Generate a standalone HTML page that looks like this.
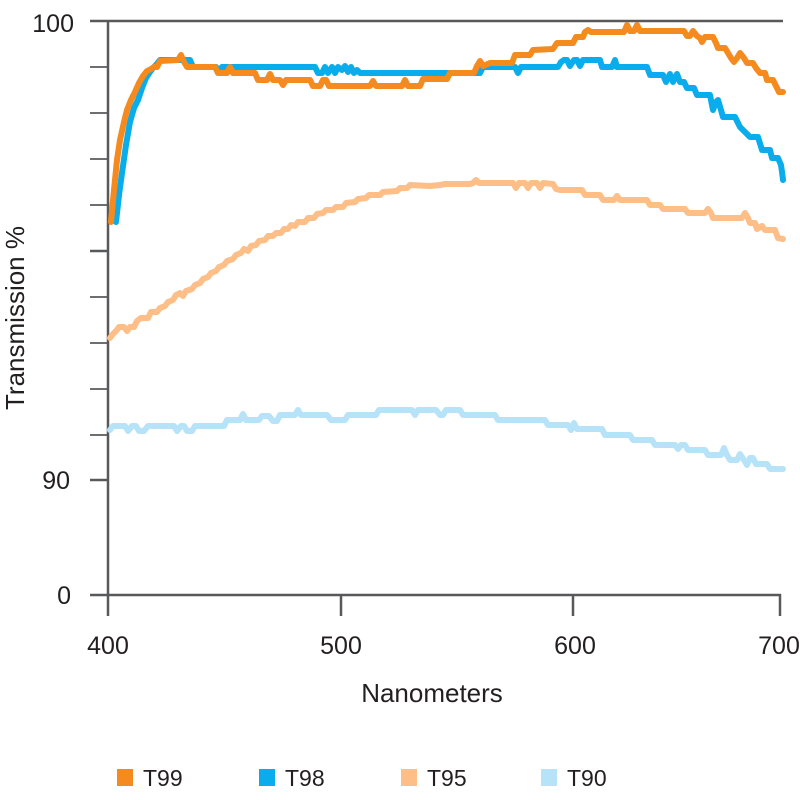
<!DOCTYPE html>
<html>
<head>
<meta charset="utf-8">
<style>
  html, body { margin:0; padding:0; background:#fff; }
  svg { display:block; }
  text { font-family: "Liberation Sans", "DejaVu Sans", sans-serif; fill:#231F20; }
</style>
</head>
<body>
<svg width="800" height="800" viewBox="0 0 800 800" xmlns="http://www.w3.org/2000/svg">
  <rect x="0" y="0" width="800" height="800" fill="#fff"/>

  <!-- axes -->
  <g stroke="#58595B" fill="none" stroke-linecap="butt">
    <line x1="90" y1="21" x2="783" y2="21" stroke-width="2.5"/>
    <line x1="108" y1="20" x2="108" y2="616" stroke-width="2.5"/>
    <line x1="90" y1="595" x2="781" y2="595" stroke-width="2.5"/>
    <!-- y ticks -->
    <line x1="90" y1="67" x2="108" y2="67" stroke-width="1.8"/>
    <line x1="90" y1="113" x2="108" y2="113" stroke-width="1.8"/>
    <line x1="90" y1="159" x2="108" y2="159" stroke-width="1.8"/>
    <line x1="90" y1="205" x2="108" y2="205" stroke-width="1.8"/>
    <line x1="90" y1="251" x2="108" y2="251" stroke-width="2.5"/>
    <line x1="90" y1="297" x2="108" y2="297" stroke-width="1.8"/>
    <line x1="90" y1="343" x2="108" y2="343" stroke-width="1.8"/>
    <line x1="90" y1="389" x2="108" y2="389" stroke-width="1.8"/>
    <line x1="90" y1="435" x2="108" y2="435" stroke-width="1.8"/>
    <line x1="90" y1="480" x2="108" y2="480" stroke-width="2.5"/>
    <!-- x ticks -->
    <line x1="341" y1="595" x2="341" y2="616" stroke-width="2.5"/>
    <line x1="573" y1="595" x2="573" y2="616" stroke-width="2.5"/>
    <line x1="780" y1="594" x2="780" y2="616" stroke-width="2.5"/>
  </g>

  <!-- y tick labels -->
  <text x="74" y="32" font-size="25" text-anchor="end">100</text>
  <text x="70" y="489" font-size="25" text-anchor="end">90</text>
  <text x="71" y="604" font-size="25" text-anchor="end">0</text>

  <!-- x tick labels -->
  <text x="108" y="654" font-size="25" text-anchor="middle">400</text>
  <text x="341" y="654" font-size="25" text-anchor="middle">500</text>
  <text x="575" y="654" font-size="25" text-anchor="middle">600</text>
  <text x="779" y="654" font-size="25" text-anchor="middle">700</text>

  <!-- axis titles -->
  <text x="432" y="702" font-size="26" text-anchor="middle">Nanometers</text>
  <text x="0" y="0" font-size="26" text-anchor="middle" transform="translate(24,318) rotate(-90)">Transmission %</text>

  <!-- series -->
  <g fill="none" stroke-width="6" stroke-linejoin="round" stroke-linecap="round">
    <!-- T90 -->
    <polyline stroke="#B6E3F8" points="110,430 113,426 125,426 128,431 132,426 136,426 139,431 144,431 148,426 174,426 177,431 181,426 184,426 187,431 192,431 195,426 224,426 227,420 240,420 243,414 246,420 259,420 262,416 269,416 273,421 277,421 280,415 295,415 298,410 301,415 327,415 331,420 345,420 348,415 376,415 379,410 382,410 412,410 415,415 418,410 436,410 440,415 443,415 446,410 460,410 463,415 495,415 498,420 545,420 548,425 568,425 571,430 574,423 577,429 602,429 605,435 630,435 633,440 652,440 655,445 675,445 678,449 681,445 685,445 688,450 705,450 708,455 721,455 724,448 727,455 730,460 737,460 740,454 744,460 747,465 750,458 753,458 756,464 767,464 770,469 783,469"/>
    <!-- T95 -->
    <polyline stroke="#FDBE87" points="110,338 113,334 116,331 119,327 124,327 127,331 130,327 134,327 137,321 141,318 148,318 151,312 157,312 160,308 165,306 168,302 173,300 176,295 180,293 183,296 186,291 192,289 195,285 200,283 203,279 208,277 211,273 216,271 219,267 224,265 227,261 233,259 236,255 241,253 244,249 248,251 251,246 256,245 259,241 265,240 268,236 273,236 276,233 281,233 284,229 288,229 291,225 295,226 298,222 305,222 308,218 314,218 317,214 323,213 326,210 333,210 336,207 343,207 346,203 355,202 358,199 366,198 369,195 380,195 383,192 397,191 400,188 407,188 410,185 430,186 440,185 445,184 470,184 473,183 476,180 479,183 513,183 516,188 519,183 525,183 528,188 531,183 537,183 540,188 543,183 553,184 556,189 560,190 582,190 585,195 600,195 603,200 614,200 617,196 620,200 647,200 650,205 660,205 663,209 685,209 688,213 705,213 708,209 711,213 713,218 742,218 745,213 748,218 750,223 755,223 757,229 762,226 765,230 775,230 778,238 783,239"/>
    <!-- T98 -->
    <polyline stroke="#0AADEB" points="116,222 119,195 122,173 126,145 130,122 134,108 138,100 142,88 146,78 150,72 153,68 156,65 160,60 190,60 193,67 216,67 219,73 222,67 315,67 318,73 322,73 325,67 328,73 332,67 335,73 338,67 342,70 345,66 348,72 351,67 354,73 357,70 360,73 480,73 483,67 515,67 518,73 521,67 558,67 561,62 564,60 567,60 570,66 574,60 577,60 580,66 583,60 600,60 602,67 612,67 615,60 617,67 647,67 650,75 663,75 666,82 670,74 673,82 677,74 680,82 684,82 687,88 694,88 697,95 710,95 713,110 716,102 718,100 721,110 723,117 735,117 740,127 745,132 750,137 758,137 762,150 770,150 772,158 778,158 781,165 782,172 783,180"/>
    <!-- T99 -->
    <polyline stroke="#F58A1F" points="111,222 114,190 117,160 120,140 124,122 127,110 131,100 135,92 139,83 143,76 147,71 151,69 154,67 157,67 160,61 178,60 181,55 184,62 187,67 215,67 218,73 227,73 230,67 233,73 255,73 258,80 267,80 270,74 273,80 280,80 283,85 286,80 310,80 313,86 320,86 323,80 326,80 329,86 370,86 373,81 376,86 402,86 405,80 408,86 420,86 423,79 447,79 450,73 474,73 477,66 480,61 483,66 490,63 512,63 515,55 530,55 533,50 553,49 557,43 573,43 576,37 583,37 585,32 588,30 591,32 624,32 627,25 630,31 634,31 637,25 640,31 684,31 687,36 690,36 693,31 697,36 700,38 702,42 705,37 713,37 716,43 718,48 725,48 728,53 731,58 734,62 737,58 740,53 744,58 747,63 753,63 756,68 760,73 765,73 767,80 773,80 776,86 779,92 783,92"/>
  </g>

  <!-- legend -->
  <rect x="117" y="769" width="16" height="17" fill="#F58A1F"/>
  <text x="143" y="786" font-size="23">T99</text>
  <rect x="259" y="769" width="16" height="17" fill="#0AADEB"/>
  <text x="285" y="786" font-size="23">T98</text>
  <rect x="401" y="769" width="16" height="17" fill="#FDBE87"/>
  <text x="427" y="786" font-size="23">T95</text>
  <rect x="541" y="769" width="16" height="17" fill="#B6E3F8"/>
  <text x="567" y="786" font-size="23">T90</text>
</svg>
</body>
</html>
